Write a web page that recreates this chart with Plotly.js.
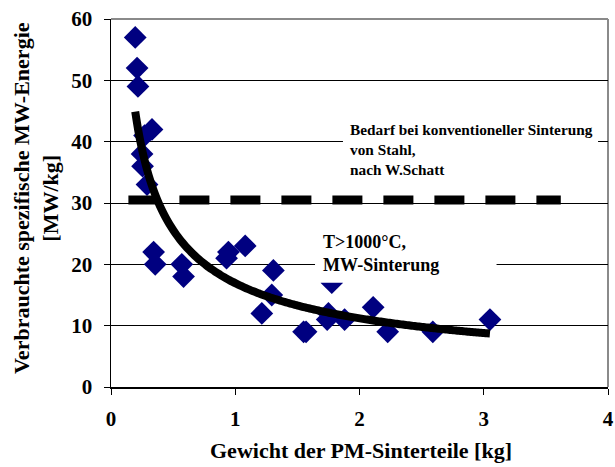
<!DOCTYPE html>
<html>
<head>
<meta charset="utf-8">
<script src="https://cdn.plot.ly/plotly-3.0.1.min.js"></script>
<style>
  html, body { margin: 0; padding: 0; background: #ffffff; }
  #chart { width: 615px; height: 467px; }
</style>
</head>
<body>
<div id="chart"></div>
<script>
// Measured sintered parts: part weight [kg] and specific MW energy [MW/kg]
const gewichtKg = [0.195, 0.21, 0.217, 0.33, 0.27, 0.25, 0.254, 0.29,
                   0.343, 0.356, 0.57, 0.584, 0.945, 0.93, 1.08,
                   1.307, 1.294, 1.214, 1.55, 1.57, 1.777, 1.75, 1.74,
                   1.88, 2.11, 2.227, 2.59, 3.05];
const energieMWkg = [57, 52, 49, 42, 41, 38, 36, 33,
                     22, 20, 20, 18, 22, 21, 23,
                     19, 15, 12, 9, 9, 17, 12, 11,
                     11, 13, 9, 9, 11];

// Energy demand of conventional sintering of steel (after W. Schatt)
const bedarfX = [0.14, 3.62];
const bedarfY = [30.5, 30.5];

// Axis ticks
const xTicks = [0, 1, 2, 3, 4];
const yTicks = [0, 10, 20, 30, 40, 50, 60];

// Power-law trend y = a * x^b, least squares in log-log space
function powerFit(xs, ys) {
  const n = xs.length;
  const lx = xs.map(Math.log), ly = ys.map(Math.log);
  const mx = lx.reduce((s, v) => s + v, 0) / n;
  const my = ly.reduce((s, v) => s + v, 0) / n;
  let sxy = 0, sxx = 0;
  for (let i = 0; i < n; i++) {
    sxy += (lx[i] - mx) * (ly[i] - my);
    sxx += (lx[i] - mx) * (lx[i] - mx);
  }
  const b = sxy / sxx;
  const a = Math.exp(my - b * mx);
  return { a, b };
}
const fit = powerFit(gewichtKg, energieMWkg);
const xMin = Math.min(...gewichtKg), xMax = Math.max(...gewichtKg);
const trendX = [], trendY = [];
for (let i = 0; i <= 120; i++) {
  const x = xMin + (xMax - xMin) * i / 120;
  trendX.push(x);
  trendY.push(fit.a * Math.pow(x, fit.b));
}

const serif = '"Liberation Serif", "Times New Roman", Times, serif';

const traces = [
  {
    type: 'scatter', mode: 'markers',
    x: gewichtKg, y: energieMWkg,
    marker: { symbol: 'diamond', size: 17.5, color: '#000080', line: { width: 0 } },
    hoverinfo: 'skip', showlegend: false
  },
  {
    type: 'scatter', mode: 'lines',
    x: bedarfX, y: bedarfY,
    line: { color: '#000000', width: 9, dash: '30px,21px' },
    hoverinfo: 'skip', showlegend: false
  },
  {
    type: 'scatter', mode: 'lines',
    x: trendX, y: trendY,
    line: { color: '#000000', width: 8, shape: 'spline' },
    hoverinfo: 'skip', showlegend: false
  }
];

const tickFont = { family: serif, size: 21, weight: 'bold', color: '#000000' };

const layout = {
  width: 615, height: 467,
  margin: { l: 111, r: 7, t: 19, b: 80 },
  paper_bgcolor: '#ffffff', plot_bgcolor: '#ffffff',
  font: { family: serif, color: '#000000' },
  xaxis: {
    range: [0, 4], tickvals: xTicks, ticktext: xTicks.map(String),
    showgrid: false, zeroline: false,
    showline: true, linecolor: '#000000', linewidth: 1.5,
    ticks: 'outside', ticklen: 6, tickcolor: '#000000', tickwidth: 1,
    tickfont: tickFont, ticklabelstandoff: 6,
    fixedrange: true
  },
  yaxis: {
    range: [0, 60], tickvals: yTicks, ticktext: yTicks.map(String),
    showgrid: true, gridcolor: '#000000', gridwidth: 1,
    zeroline: false,
    showline: true, linecolor: '#000000', linewidth: 1.5,
    ticks: 'outside', ticklen: 6, tickcolor: '#000000', tickwidth: 1,
    tickfont: tickFont, ticklabelstandoff: 7,
    fixedrange: true
  },
  shapes: [
    // grey frame on top and right of the plot area
    { type: 'line', xref: 'paper', yref: 'paper', x0: 0, x1: 1, y0: 1, y1: 1,
      line: { color: '#8a8a8a', width: 2 }, layer: 'between' },
    { type: 'line', xref: 'paper', yref: 'paper', x0: 1, x1: 1, y0: 0, y1: 1,
      line: { color: '#8a8a8a', width: 2 }, layer: 'between' },
    // white text boxes
    { type: 'rect', xref: 'x', yref: 'y', x0: 1.867, x1: 3.92, y0: 32, y1: 45,
      fillcolor: '#ffffff', line: { width: 0 }, layer: 'above' },
    { type: 'rect', xref: 'x', yref: 'y', x0: 1.642, x1: 3.103, y0: 17, y1: 26,
      fillcolor: '#ffffff', line: { width: 0 }, layer: 'above' }
  ],
  annotations: [
    {
      xref: 'x', yref: 'y', x: 1.91, y: 38.7, xanchor: 'left', yanchor: 'middle',
      align: 'left', showarrow: false,
      text: 'Bedarf bei konventioneller Sinterung<br>von Stahl,<br>nach W.Schatt',
      font: { family: serif, size: 15.3, weight: 'bold', color: '#000000' }
    },
    {
      xref: 'x', yref: 'y', x: 1.69, y: 21.8, xanchor: 'left', yanchor: 'middle',
      align: 'left', showarrow: false,
      text: 'T&gt;1000°C,<br>MW-Sinterung',
      font: { family: serif, size: 18, weight: 'bold', color: '#000000' }
    },
    {
      xref: 'paper', yref: 'paper', x: 0, y: 0.5, xshift: -75, yshift: 5,
      xanchor: 'center', yanchor: 'middle', textangle: -90, showarrow: false,
      text: 'Verbrauchte spezifische MW-Energie<br>[MW/kg]',
      font: { family: serif, size: 22, weight: 'bold', color: '#000000' }
    },
    {
      xref: 'paper', yref: 'paper', x: 0.504, y: 0, yshift: -63,
      xanchor: 'center', yanchor: 'middle', showarrow: false,
      text: 'Gewicht der PM-Sinterteile [kg]',
      font: { family: serif, size: 22, weight: 'bold', color: '#000000' }
    }
  ]
};

Plotly.newPlot('chart', traces, layout, { displayModeBar: false, staticPlot: true });
</script>
</body>
</html>
